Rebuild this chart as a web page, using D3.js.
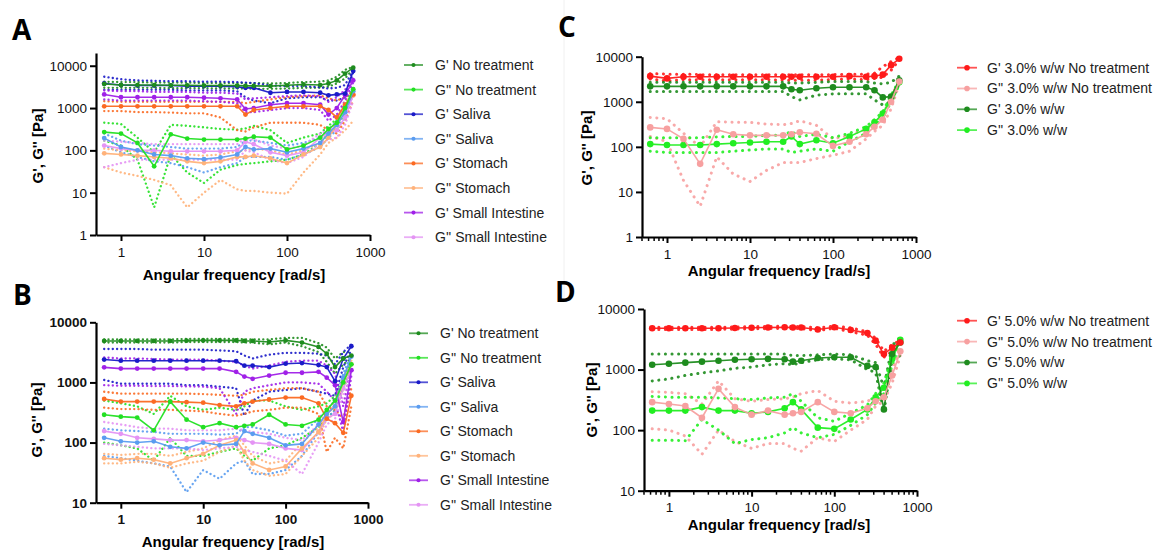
<!DOCTYPE html>
<html><head><meta charset="utf-8">
<script src="https://cdn.jsdelivr.net/npm/d3@7"></script>
<style>body{margin:0;background:#fff;} svg{display:block;font-family:"Liberation Sans",Arial,sans-serif;}</style>
</head><body><svg id="c" width="1162" height="551"></svg>
<script>
const freq = [0.628,1,1.58,2.51,3.98,6.28,10,15.8,25.1,31.6,39.8,63.1,100,158,251,316,398,501,628];
const yTicksA = [1,10,100,1000,10000];
const yTicksB = [10,100,1000,10000];
const xTicks = [1,10,100,1000];

// Panel A
const aNoGp_m = [3700,3500,3500,3500,3450,3450,3400,3400,3400,3350,3350,3300,3450,3600,3500,3800,4500,6500,9000];
const aNoGp_h = [4200,4100,4100,4000,4000,4000,3900,3900,3900,3900,3900,3800,3900,4100,4200,4500,5500,8000,9500];
const aNoGp_l = [3000,3000,3000,3000,2950,2950,2950,2900,2900,2900,2850,2850,2900,3000,3000,3200,3800,5000,8500];
const aNoGpp_m = [270,250,150,42,240,190,180,180,180,190,210,200,105,130,200,320,450,1000,2800];
const aNoGpp_h = [450,420,200,90,400,380,350,320,310,330,380,300,150,200,250,380,550,1300,3000];
const aNoGpp_l = [170,130,60,4.5,80,30,17,35,45,48,50,55,60,80,150,250,350,800,2500];
const aSalGp_m = [3800,3500,3400,3400,3400,3300,3300,3300,3200,3000,3000,2300,2400,2400,2300,2000,2100,2200,7500];
const aSalGp_h = [5500,4800,4500,4400,4300,4300,4200,4200,4100,4000,3900,3400,3300,3300,3100,2900,3000,3500,8000];
const aSalGp_l = [2700,2700,2700,2700,2700,2600,2600,2600,2500,1800,1500,1300,1700,1800,1800,1500,1500,1800,7000];
const aSalGpp_m = [195,120,100,80,75,65,62,68,80,120,105,110,90,110,150,250,400,800,2500];
const aSalGpp_h = [250,170,140,130,120,110,110,110,120,170,170,150,130,150,200,300,500,1000,2800];
const aSalGpp_l = [130,90,70,55,50,40,30,40,50,70,70,70,60,80,120,200,300,600,2200];
const aStoGp_m = [1100,1100,1100,1100,1100,1100,1100,1100,1100,700,900,1000,1100,1100,1100,900,600,1200,2100];
const aStoGp_h = [1450,1400,1400,1400,1400,1400,1400,1400,1400,1300,1400,1600,1800,1900,2000,1700,1500,1800,2500];
const aStoGp_l = [850,850,800,800,780,750,750,600,300,280,350,450,450,450,400,300,250,500,1500];
const aStoGpp_m = [85,80,75,70,65,55,50,55,70,70,75,65,50,80,120,200,400,1200,2000];
const aStoGpp_h = [110,100,95,90,85,80,75,80,95,100,110,100,80,100,150,250,500,1400,2300];
const aStoGpp_l = [40,30,25,20,15,4.5,10,20,12,11,11,10,9.5,30,80,150,200,300,500];
const aSIGp_m = [2100,1800,1800,1800,1800,1800,1750,1700,1600,950,1000,1200,1300,1300,1200,700,1000,2000,4500];
const aSIGp_h = [2600,2500,2500,2400,2400,2400,2300,2300,2200,1600,1700,1800,1900,2000,1900,1400,1800,2700,5000];
const aSIGp_l = [1600,1500,1500,1500,1500,1500,1450,1400,1300,800,800,900,1000,1000,900,500,700,1500,4000];
const aSIGpp_m = [130,110,100,100,95,95,95,95,100,160,140,90,75,90,200,260,300,600,2000];
const aSIGpp_h = [170,160,150,140,140,140,140,140,140,200,180,130,110,130,250,300,400,800,2300];
const aSIGpp_l = [40,50,60,60,60,60,60,60,60,100,90,60,50,70,150,180,200,400,1500];

// Panel B
const bNoGp_m = [4900,4900,4900,4900,4900,4950,5000,5000,5000,4900,4900,4700,5000,4600,3900,3000,1800,2500,2800];
const bNoGp_h = [5200,5200,5200,5200,5200,5300,5300,5300,5300,5200,5200,5200,5500,5500,4500,3800,2500,3200,3200];
const bNoGp_l = [4600,4600,4600,4600,4600,4700,4700,4700,4700,4600,4600,4300,4600,4000,3200,2200,1400,2000,2500];
const bNoGpp_m = [290,270,260,160,480,240,180,210,180,190,200,290,200,190,240,350,500,1000,2000];
const bNoGpp_h = [500,450,400,300,600,400,350,380,350,400,500,500,400,350,400,450,600,1200,2300];
const bNoGpp_l = [100,90,80,50,120,60,60,70,80,60,50,80,90,120,180,250,350,800,1700];
const bSalGp_m = [2400,2300,2300,2300,2300,2300,2300,2300,2250,1900,1900,1800,2050,2100,1950,1800,1050,2500,4000];
const bSalGp_h = [3600,3600,3600,3500,3500,3500,3500,3400,3300,2800,2500,2900,3100,3100,3000,2800,2000,3200,4300];
const bSalGp_l = [1100,950,950,950,950,900,900,850,800,280,500,700,750,800,700,650,600,1800,3500];
const bSalGpp_m = [120,105,100,105,85,80,100,90,95,155,140,120,90,95,200,300,400,1200,2700];
const bSalGpp_h = [170,160,155,150,140,140,140,135,140,180,180,160,130,140,250,350,500,1400,3000];
const bSalGpp_l = [60,55,50,45,40,15,35,25,45,50,30,30,35,60,150,250,350,1000,2400];
const bStoGp_m = [530,480,480,480,480,470,460,420,400,450,480,520,560,560,450,250,210,145,600];
const bStoGp_h = [700,650,650,650,650,650,640,620,600,620,700,750,800,800,700,400,350,250,800];
const bStoGp_l = [380,360,360,350,350,340,330,300,280,300,330,350,380,380,300,70,120,80,400];
const bStoGpp_m = [55,52,55,52,45,55,65,90,110,70,45,35,40,80,150,300,400,1000,2000];
const bStoGpp_h = [65,62,65,65,60,70,80,110,130,90,60,45,50,100,180,350,500,1200,2300];
const bStoGpp_l = [45,45,48,45,38,45,50,70,90,50,35,28,30,60,120,250,300,800,1700];
const bSIGp_m = [1780,1700,1700,1700,1700,1700,1700,1700,1500,1250,1150,1300,1450,1450,1500,1200,900,220,1600];
const bSIGp_h = [2600,2500,2500,2450,2400,2400,2400,2300,2200,1900,1700,1900,2200,2300,2300,1900,1400,400,2000];
const bSIGp_l = [900,880,880,870,870,860,850,800,300,700,800,900,1000,1000,950,700,500,150,1300];
const bSIGpp_m = [155,140,120,115,110,110,105,110,120,110,100,95,80,75,150,250,300,800,1600];
const bSIGpp_h = [220,200,180,170,170,160,160,160,170,160,150,140,120,110,200,300,400,1000,1900];
const bSIGpp_l = [95,90,85,80,80,80,75,80,85,75,70,60,50,30,100,200,250,600,1300];

// Panel C
const cRedGp_m = [3700,3300,3600,3600,3600,3600,3600,3600,3600,3600,3600,3600,3600,3700,3600,3700,4000,6500,9000];
const cRedGp_h = [4200,4100,4100,4000,4000,4000,4000,4000,4000,4000,4000,4000,4000,4100,4100,4300,6000,7800,9500];
const cRedGp_l = [3200,2900,3100,3100,3100,3100,3100,3100,3000,3000,3000,3000,3100,3200,3100,3300,3500,5000,8500];
const cRedGpp_m = [270,250,150,42,240,190,180,180,180,190,210,195,105,130,190,280,400,1000,2800];
const cRedGpp_h = [450,420,200,100,360,350,350,320,310,330,380,300,150,180,250,330,500,1300,3000];
const cRedGpp_l = [170,130,18,4.8,60,25,17,30,45,45,45,55,65,80,150,220,300,700,2500];
const cGrnGp_m = [2200,2200,2200,2200,2200,2200,2200,2200,2200,1900,1800,2000,2100,2100,2100,1800,1250,1300,3000];
const cGrnGp_h = [2700,2700,2700,2700,2700,2700,2700,2700,2700,2600,2600,2700,2800,2800,2800,2600,2500,2700,3700];
const cGrnGp_l = [1700,1700,1700,1700,1700,1700,1700,1700,1700,1300,1100,1400,1500,1500,1500,1100,850,1000,2500];
const cGrnGpp_m = [115,110,110,110,115,120,125,130,130,170,115,140,120,170,250,350,550,1200,2700];
const cGrnGpp_h = [160,160,160,160,165,170,170,180,180,220,170,190,160,200,280,400,600,1400,3000];
const cGrnGpp_l = [80,75,75,75,75,80,85,90,90,75,80,90,80,130,200,300,450,1000,2400];

// Panel D
const dRedGp_m = [4800,4800,4800,4800,4800,4850,4900,4950,5000,4950,4950,4600,5000,4500,4000,3000,1800,2300,2800];
const dRedGp_h = [5000,5000,5000,5000,5000,5050,5100,5150,5200,5150,5150,4900,5200,4900,4200,3300,2000,2600,3000];
const dRedGp_l = [4600,4600,4600,4600,4600,4650,4700,4750,4800,4750,4750,4400,4800,4200,3700,2600,1600,2000,2500];
const dRedGpp_m = [290,270,250,160,480,240,180,210,180,190,200,290,200,190,230,300,350,800,2000];
const dRedGpp_h = [430,420,400,270,650,330,300,320,330,350,400,450,300,280,300,350,450,1000,2200];
const dRedGpp_l = [105,100,80,40,100,65,50,60,60,50,45,75,65,100,150,250,300,600,1700];
const dGrnGp_m = [1200,1250,1300,1350,1400,1450,1480,1500,1480,1350,1400,1550,1600,1600,1150,1100,220,1800,2800];
const dGrnGp_h = [1800,1800,1800,1800,1800,1800,1800,1800,1800,1700,1700,1750,1800,1750,1400,1300,500,2500,3400];
const dGrnGp_l = [650,700,800,880,950,1050,1100,1200,1250,1200,1300,1450,1500,1450,1000,900,200,1500,1700];
const dGrnGpp_m = [210,210,210,240,210,210,190,200,230,290,220,110,105,150,220,350,500,1500,3100];
const dGrnGpp_h = [360,350,350,350,340,330,320,340,350,400,300,160,140,190,260,400,600,1700,3300];
const dGrnGpp_l = [68,68,67,150,100,60,70,75,90,110,90,75,85,120,180,280,400,1200,2800];

const labelsAB = ["G' No treatment","G'' No treatment","G' Saliva","G'' Saliva","G' Stomach","G'' Stomach","G' Small Intestine","G'' Small Intestine"];
const colorsAB = ["#1e8c1e","#22e022","#1a1ac8","#5a9cf0","#fb6a22","#ffb27a","#a020e8","#e494f4"];
const labelsC = ["G' 3.0% w/w No treatment","G'' 3.0% w/w No treatment","G' 3.0% w/w","G'' 3.0% w/w"];
const labelsD = ["G' 5.0% w/w No treatment","G'' 5.0% w/w No treatment","G' 5.0% w/w","G'' 5.0% w/w"];
const colorsCD = ["#ff1a1a","#f7a0a0","#1e8c1e","#22ee22"];

const seriesA = [[aNoGp_m,aNoGp_h,aNoGp_l],[aNoGpp_m,aNoGpp_h,aNoGpp_l],[aSalGp_m,aSalGp_h,aSalGp_l],[aSalGpp_m,aSalGpp_h,aSalGpp_l],[aStoGp_m,aStoGp_h,aStoGp_l],[aStoGpp_m,aStoGpp_h,aStoGpp_l],[aSIGp_m,aSIGp_h,aSIGp_l],[aSIGpp_m,aSIGpp_h,aSIGpp_l]];
const seriesB = [[bNoGp_m,bNoGp_h,bNoGp_l],[bNoGpp_m,bNoGpp_h,bNoGpp_l],[bSalGp_m,bSalGp_h,bSalGp_l],[bSalGpp_m,bSalGpp_h,bSalGpp_l],[bStoGp_m,bStoGp_h,bStoGp_l],[bStoGpp_m,bStoGpp_h,bStoGpp_l],[bSIGp_m,bSIGp_h,bSIGp_l],[bSIGpp_m,bSIGpp_h,bSIGpp_l]];
const seriesC = [[cRedGp_m,cRedGp_h,cRedGp_l],[cRedGpp_m,cRedGpp_h,cRedGpp_l],[cGrnGp_m,cGrnGp_h,cGrnGp_l],[cGrnGpp_m,cGrnGpp_h,cGrnGpp_l]];
const seriesD = [[dRedGp_m,dRedGp_h,dRedGp_l],[dRedGpp_m,dRedGpp_h,dRedGpp_l],[dGrnGp_m,dGrnGp_h,dGrnGp_l],[dGrnGpp_m,dGrnGpp_h,dGrnGpp_l]];

const svg = d3.select("#c");

svg.append("line").attr("x1",564).attr("x2",564).attr("y1",0).attr("y2",300).attr("stroke","#f0f0f0").attr("stroke-width",1);

const panels = [
  {letter:"A", lx:12, ly:40, xr:[96,370], yr:[235,53], yd:[1,20000], yt:yTicksA, minor:false, bold:false, series:seriesA, labels:labelsAB, colors:colorsAB, r:2.4, dash:"0.1,4.2", dw:2.3,
   ytx:38, yty:146, xtx:234, xty:280, leg:{x1:404,x2:423,tx:435,y0:65,dy:24.6}},
  {letter:"B", lx:13, ly:305, xr:[96,368], yr:[502.7,322.3], yd:[10,10000], yt:yTicksB, minor:false, bold:true, series:seriesB, labels:labelsAB, colors:colorsAB, r:2.4, dash:"0.1,4.2", dw:2.3,
   ytx:37, yty:420, xtx:233, xty:547, leg:{x1:409,x2:428,tx:440,y0:333.3,dy:24.5}},
  {letter:"C", lx:558, ly:37, xr:[642,916], yr:[237,56.7], yd:[1,10000], yt:yTicksA, minor:true, bold:false, series:seriesC, labels:labelsC, colors:colorsCD, r:3.3, dash:"0.1,6.5", dw:3,
   ytx:587, yty:148, xtx:779, xty:276, leg:{x1:957,x2:977,tx:987,y0:67.7,dy:20.8}},
  {letter:"D", lx:555, ly:302, xr:[644,917], yr:[490.7,309], yd:[10,10000], yt:yTicksB, minor:true, bold:false, series:seriesD, labels:labelsD, colors:colorsCD, r:3.3, dash:"0.1,6.5", dw:3,
   ytx:592, yty:400, xtx:779, xty:530, leg:{x1:957,x2:977,tx:987,y0:320.7,dy:20.9}}
];

panels.forEach(p => {
  const x = d3.scaleLog().domain([0.5,1000]).range(p.xr);
  const y = d3.scaleLog().domain(p.yd).range(p.yr);
  const g = svg.append("g");
  svg.append("text").attr("x",p.lx).attr("y",p.ly).text(p.letter)
    .attr("font-size",28).attr("font-weight","bold").attr("fill","#000")
    .style("font-family","'Open Sans','Liberation Sans',Arial,sans-serif");

  const line = d3.line().x((d,i)=>x(freq[i])).y(d=>y(d));
  p.series.forEach((s,k) => {
    [s[1],s[2]].forEach(arr => {
      g.append("path").attr("d",line(arr)).attr("fill","none")
        .attr("stroke",p.colors[k]).attr("stroke-width",p.dw)
        .attr("stroke-linecap","round").attr("stroke-dasharray",p.dash).attr("opacity",0.9);
    });
  });
  for (let k=p.series.length-1;k>=0;k--) {
    const s = p.series[k];
    g.append("path").attr("d",line(s[0])).attr("fill","none")
      .attr("stroke",p.colors[k]).attr("stroke-width",1.6).attr("opacity",0.95);
    g.selectAll(null).data(s[0]).enter().append("circle")
      .attr("cx",(d,i)=>x(freq[i])).attr("cy",d=>y(d)).attr("r",p.r).attr("fill",p.colors[k]);
  }

  const fmt = d3.format("d");
  const xa = svg.append("g").attr("transform",`translate(0,${p.yr[0]})`)
    .call(d3.axisBottom(x).tickValues(xTicks).tickFormat(fmt).tickSize(6).tickPadding(6).tickSizeOuter(0));
  if (p.minor) {
    const minors = [];
    [0.1,1,10,100].forEach(b => { for (let m=2;m<=9;m++){ const v=b*m; if (v>=0.5 && v<1000) minors.push(v);} });
    xa.selectAll(".minor").data(minors).enter().append("line").attr("class","minor")
      .attr("x1",d=>x(d)).attr("x2",d=>x(d)).attr("y1",0).attr("y2",4).attr("stroke","#000").attr("stroke-width",1.5);
  }
  const ya = svg.append("g").attr("transform",`translate(${p.xr[0]},0)`)
    .call(d3.axisLeft(y).tickValues(p.yt).tickFormat(fmt).tickSize(6).tickSizeOuter(0));
  [xa,ya].forEach(a => {
    a.select(".domain").attr("stroke","#000").attr("stroke-width",2.2);
    a.selectAll(".tick line").attr("stroke","#000").attr("stroke-width",2);
    a.selectAll("text").attr("font-size",13.5).attr("fill","#111")
      .attr("font-weight",p.bold?"bold":"normal")
      .style("font-family","'Liberation Sans',Arial,sans-serif");
  });

  svg.append("text").attr("x",p.xtx).attr("y",p.xty).attr("text-anchor","middle")
    .attr("font-size",15).attr("font-weight","bold").text("Angular frequency [rad/s]");
  svg.append("text").attr("transform",`translate(${p.ytx},${p.yty}) rotate(-90)`).attr("text-anchor","middle")
    .attr("dy","0.35em").attr("font-size",15).attr("font-weight","bold").text("G', G'' [Pa]");

  const L = p.leg;
  p.labels.forEach((lab,k) => {
    const yy = L.y0 + k*L.dy;
    svg.append("line").attr("x1",L.x1).attr("x2",L.x2).attr("y1",yy).attr("y2",yy)
      .attr("stroke",p.colors[k]).attr("stroke-width",1.8).attr("opacity",0.75);
    svg.append("circle").attr("cx",(L.x1+L.x2)/2).attr("cy",yy).attr("r",p.r*0.85).attr("fill",p.colors[k]);
    svg.append("text").attr("x",L.tx).attr("y",yy).attr("dy","0.35em").attr("font-size",14)
      .attr("fill","#222").text(lab);
  });
});
</script></body></html>
